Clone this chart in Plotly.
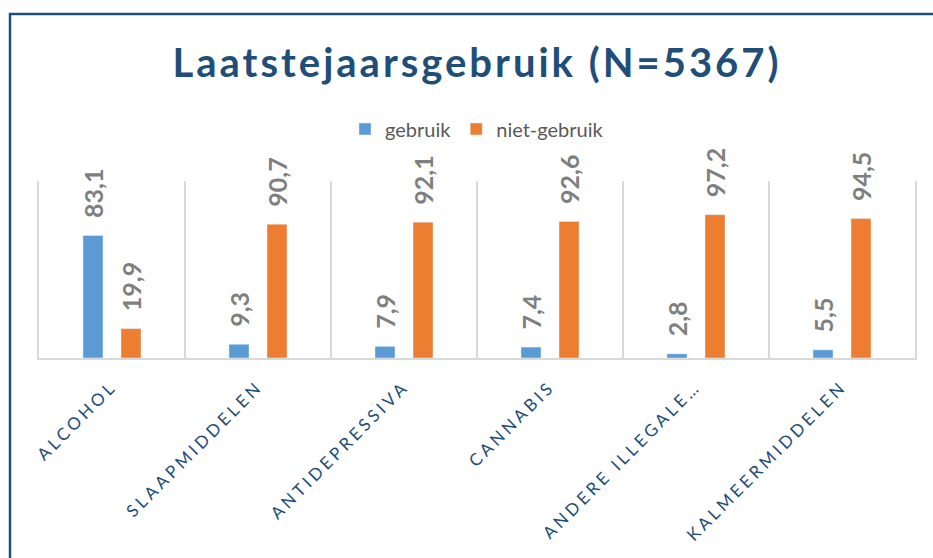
import plotly.graph_objects as go

categories = ["ALCOHOL", "SLAAPMIDDELEN", "ANTIDEPRESSIVA", "CANNABIS", "ANDERE ILLEGALE…", "KALMEERMIDDELEN"]
gebruik = [83.1, 9.3, 7.9, 7.4, 2.8, 5.5]
niet_gebruik = [19.9, 90.7, 92.1, 92.6, 97.2, 94.5]
title_text = "Laatstejaarsgebruik (N=5367)"

BLUE = "#5B9BD5"
ORANGE = "#ED7D31"
DARK = "#1F4E79"
GRAY_TXT = "#7F7F7F"
GRID = "#D9D9D9"

def fmt(v):
    return f"{v:.1f}".replace(".", ",")

fig = go.Figure()
fig.add_trace(go.Bar(x=categories, y=gebruik, name="gebruik", marker_color=BLUE))
fig.add_trace(go.Bar(x=categories, y=niet_gebruik, name="niet-gebruik", marker_color=ORANGE))

annotations = []
for series, shift in ((gebruik, -19), (niet_gebruik, 19)):
    for c, v in zip(categories, series):
        annotations.append(dict(
            x=c, y=v, xref="x", yref="y", text=fmt(v), showarrow=False,
            textangle=-90, xanchor="center", yanchor="bottom",
            xshift=shift, yshift=15,
            font=dict(family="Lato", size=25, color=GRAY_TXT, weight="bold"),
        ))

fig.update_layout(
    width=933, height=558,
    margin=dict(l=39, r=18, t=181, b=200, autoexpand=False),
    paper_bgcolor="white", plot_bgcolor="white",
    barmode="group", bargap=0.479, bargroupgap=0.474,
    title=dict(
        text=f'<span style="letter-spacing:3px">{title_text}</span>',
        x=0.5, xref="paper", xanchor="center",
        y=1 - 63 / 558, yref="container", yanchor="middle",
        font=dict(family="Lato", size=40, color=DARK, weight="bold"),
    ),
    legend=dict(
        orientation="h", x=0.5, xanchor="center", y=1.294, yanchor="middle",
        font=dict(family="Lato", size=20, color="#595959"),
        itemclick=False, traceorder="normal",
    ),
    showlegend=True,
    xaxis=dict(
        type="category", tickson="boundaries",
        tickmode="array", tickvals=categories,
        ticktext=[f'<span style="letter-spacing:3.5px">{c}</span>' for c in categories],
        tickangle=-45, ticks="", ticklabelstandoff=10,
        tickfont=dict(family="Lato", size=17, color=DARK),
        showgrid=True, gridcolor=GRID, gridwidth=1.5,
        showline=True, linecolor=GRID, linewidth=2,
        automargin=False, fixedrange=True,
    ),
    yaxis=dict(
        range=[0, 120], showticklabels=False, showgrid=False, zeroline=False,
        showline=True, mirror=True, linecolor=GRID, linewidth=1.5,
        automargin=False, fixedrange=True,
    ),
    annotations=annotations,
    shapes=[dict(
        type="path", xref="paper", yref="paper",
        path="M -0.0331,-1.5 L -0.0331,1.9435 L 1.2,1.9435",
        line=dict(color=DARK, width=2.5), layer="above",
    )],
)

fig.write_html(
    "out.html",
    config={"displayModeBar": False},
    post_script="document.body.style.margin='0';",
)
